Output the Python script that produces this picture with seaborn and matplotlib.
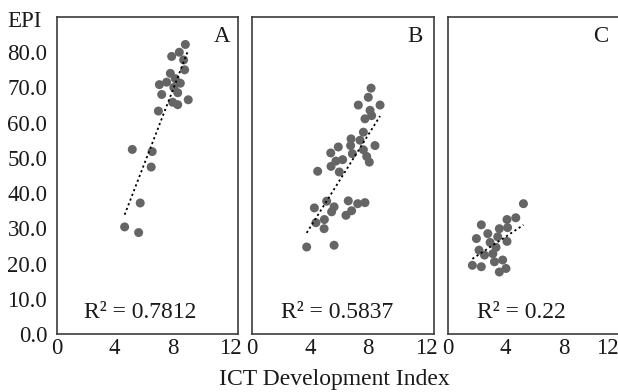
import matplotlib
matplotlib.use("Agg")
import matplotlib.pyplot as plt
import matplotlib.transforms as mtransforms
import numpy as np
import pandas as pd
import seaborn as sns

# values
a_x = [8.9, 7.95, 8.48, 8.78, 8.85, 7.86, 7.1, 7.6, 8.2, 8.55, 8.1, 7.26, 8.37,
       7.03, 8.02, 8.37, 9.1, 5.22, 6.6, 6.53, 4.69, 5.77, 5.66]
a_y = [82.2, 78.8, 80.0, 77.8, 75.0, 74.0, 70.8, 71.5, 72.5, 71.2, 70.0, 68.0, 68.5,
       63.3, 65.8, 65.1, 66.5, 52.4, 51.8, 47.4, 30.4, 37.2, 28.8]

b_x = [8.21, 8.02, 7.33, 8.83, 8.14, 8.25, 7.79, 7.68, 6.83, 7.45, 6.8, 8.48, 5.95,
       7.68, 5.43, 6.92, 7.91, 6.25, 5.79, 8.09, 5.45, 4.53, 6.02,
       5.15, 6.64, 4.3, 5.66, 7.29, 7.79, 5.49, 6.87, 6.48, 4.41, 4.99, 4.97, 3.77, 5.66]
b_y = [69.8, 67.2, 65.0, 65.0, 63.5, 62.0, 61.1, 57.3, 55.4, 55.0, 53.5, 53.5, 53.1,
       52.3, 51.4, 51.2, 50.4, 49.5, 49.1, 48.8, 47.6, 46.2, 46.0,
       37.7, 37.8, 35.8, 36.1, 37.0, 37.3, 34.7, 35.0, 33.7, 31.6, 32.5, 29.9, 24.7, 25.2]

c_x = [5.23, 4.7, 4.09, 2.31, 3.56, 4.13, 2.76, 1.97, 3.45, 4.09, 2.92, 3.33, 2.15,
       2.53, 3.11, 3.22, 3.79, 4.02, 3.56, 1.69, 2.31]
c_y = [37.0, 33.0, 32.5, 31.0, 29.9, 30.2, 28.5, 27.1, 27.6, 26.3, 26.0, 24.6, 23.8,
       22.4, 22.8, 20.5, 21.0, 18.6, 17.6, 19.5, 19.1]

panel_names = ["A", "B", "C"]
r2_labels = ["R\u00b2 = 0.7812", "R\u00b2 = 0.5837", "R\u00b2 = 0.22"]
x_ticks = [0, 4, 8, 12]
y_ticks = [0, 10, 20, 30, 40, 50, 60, 70, 80]

sns.set_style("white")
plt.rcParams["font.family"] = ["Liberation Serif", "DejaVu Serif"]

W, H = 618, 392
fig = plt.figure(figsize=(W / 100, H / 100), dpi=100)

# axes boxes in pixels: left, right
boxes = [(57, 238), (252, 434), (448, 629)]
top_px, bot_px = 17, 334
# letter and R2 placement (axes fraction)
letter_x = [0.956, 0.94, 0.884]
r2_x = [0.461, 0.47, 0.403]

data = [(a_x, a_y), (b_x, b_y), (c_x, c_y)]
dot_col = "#656565"
spine_col = "#3c3c3c"
fs = 16.5

for i, ((xs, ys), (l, r)) in enumerate(zip(data, boxes)):
    ax = fig.add_axes([l / W, 1 - bot_px / H, (r - l) / W, (bot_px - top_px) / H])
    df = pd.DataFrame({"x": xs, "y": ys})
    sns.regplot(data=df, x="x", y="y", ax=ax, ci=None, truncate=True,
                scatter_kws=dict(s=42, color=dot_col, edgecolor="none", alpha=1),
                line_kws=dict(color="black", ls=(0, (1.2, 1.6)), lw=1.3))
    ax.set_xlim(0, 12.55)
    ax.set_ylim(0, 90)
    ax.set_xticks(x_ticks)
    ax.set_yticks(y_ticks)
    ax.set_xlabel("")
    ax.set_ylabel("")
    ax.tick_params(direction="in", length=5, width=1.1, color=spine_col,
                   labelsize=fs, labelcolor="#1a1a1a")
    ax.tick_params(axis="x", pad=3)
    ax.tick_params(axis="y", pad=7)
    if i == 0:
        ax.set_yticklabels([f"{v:.1f}" for v in y_ticks])
    else:
        ax.set_yticklabels([])
    # no tick mark drawn at 12
    ax.xaxis.get_major_ticks()[-1].tick1line.set_visible(False)
    for sp in ax.spines.values():
        sp.set_color(spine_col)
        sp.set_linewidth(1.2)
    ax.text(letter_x[i], 0.921, panel_names[i], transform=ax.transAxes,
            ha="right", va="baseline", fontsize=fs, color="#1a1a1a")
    ax.text(r2_x[i], 0.05, r2_labels[i], transform=ax.transAxes,
            ha="center", va="baseline", fontsize=17, color="#1a1a1a")
    if i == 2:
        lbl = ax.get_xticklabels()[-1]
        lbl.set_transform(lbl.get_transform() +
                          mtransforms.ScaledTranslation(-0.14, 0, fig.dpi_scale_trans))

fig.text(7 / W, 1 - 27 / H, "EPI", ha="left", va="baseline", fontsize=fs, color="#1a1a1a")
fig.text(334 / W, 1 - 385 / H, "ICT Development Index", ha="center", va="baseline",
         fontsize=17, color="#1a1a1a")

fig.savefig("out.png", dpi=100)
